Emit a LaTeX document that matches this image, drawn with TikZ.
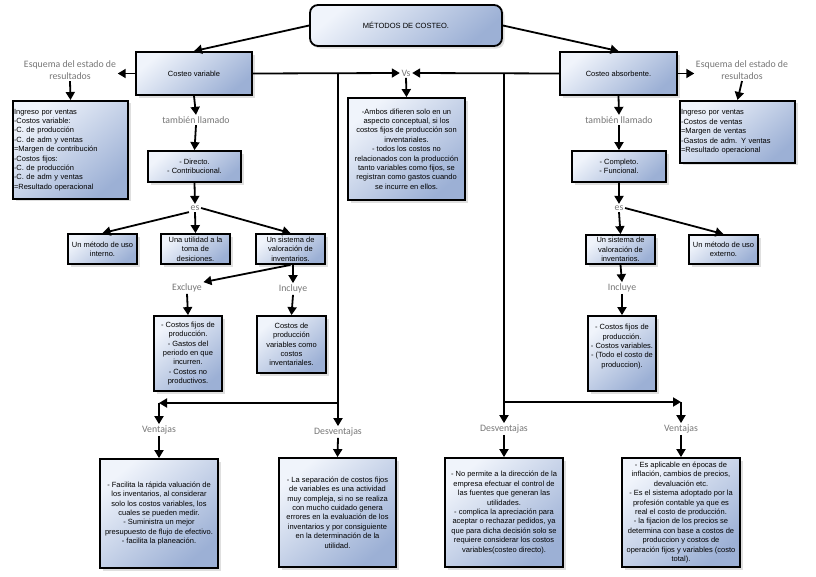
\documentclass[tikz,border=0pt]{standalone}
\usepackage{fontspec}
\setmainfont{Liberation Sans}
\newfontfamily\lblfont{Carlito}
\usetikzlibrary{arrows.meta, shadows}
\definecolor{boxlight}{RGB}{240,244,251}
\definecolor{boxdark}{RGB}{156,176,213}
\definecolor{lblgray}{RGB}{118,118,118}
\tikzstyle{box} = [rectangle, draw=black, line width=1.8pt, top color=boxlight, bottom color=boxdark, shading angle=40, drop shadow={shadow xshift=2.5pt, shadow yshift=-2.5pt, fill=black!25, opacity=0.5}, align=center, inner sep=1pt, font=\fontsize{7.5}{9.4}\selectfont]
\tikzstyle{listbox} = [box, align=left, text width=113pt, anchor=north]
\tikzstyle{titlebox} = [box, rounded corners=8pt]
\tikzstyle{lbl} = [text=lblgray, font=\lblfont\fontsize{9.8}{11.8}\selectfont, align=center, inner sep=1.5pt]
\tikzstyle{arrow} = [line width=1.8pt, -{Triangle[length=8pt, width=9pt]}]

\begin{document}
\begin{tikzpicture}[x=1pt, y=-1pt]
\useasboundingbox (0,0) rectangle (816,576);

\node (title) [titlebox, minimum width=192pt, minimum height=41pt] at (406,25.5) {MÉTODOS DE COSTEO.};

\node (cv) [box, minimum width=116pt, minimum height=43pt] at (194,73.5) {Costeo variable};
\node (ca) [box, minimum width=117pt, minimum height=43pt] at (618.5,73.5) {Costeo absorbente.};
\node (vs) [lbl] at (406,73) {Vs};

\node (esqL) [lbl] at (70,70) {Esquema del estado de\\resultados};
\node (infoL) [listbox, minimum height=98pt] at (70.5,100) {Ingreso por ventas\\-Costos variable:\\-C. de producción\\-C. de adm y ventas\\=Margen de contribución\\-Costos fijos:\\-C. de producción\\-C. de adm y ventas\\=Resultado operacional};

\node (esqR) [lbl] at (742,70) {Esquema del estado de\\resultados};
\node (infoR) [listbox, minimum height=62pt] at (737.5,100) {Ingreso por ventas\\-Costos de ventas\\=Margen de ventas\\-Gastos de adm. Y ventas\\=Resultado operacional};

\node (vsbox) [box, minimum width=117pt, minimum height=102pt] at (406.5,149) {-Ambos difieren solo en un\\aspecto conceptual, si los\\costos fijos de producción son\\inventariales.\\- todos los costos no\\relacionados con la producción\\tanto variables como fijos, se\\registran como gastos cuando\\se incurre en ellos.};

% costeo variable
\node (tlL) [lbl] at (196,120) {también llamado};
\node (dirL) [box, minimum width=93pt, minimum height=31pt] at (194.5,166.5) {- Directo.\\- Contribucional.};
\node (esL) [lbl] at (195,208) {es};
\node (intL) [box, minimum width=69pt, minimum height=30pt] at (102.5,249) {Un método de uso\\interno.};
\node (utL) [box, minimum width=69pt, minimum height=30pt] at (195.5,249) {Una utilidad a la\\toma de\\desiciones.};
\node (sisL) [box, minimum width=69pt, minimum height=30pt] at (290.5,249) {Un sistema de\\valoración de\\inventarios.};
\node (excL) [lbl] at (187,288) {Excluye};
\node (incL) [lbl] at (293,289) {Incluye};
\node (excB) [box, minimum width=68pt, minimum height=75pt] at (188,353.5) {- Costos fijos de\\producción.\\- Gastos del\\periodo en que\\incurren.\\- Costos no\\productivos.};
\node (incB) [box, minimum width=69pt, minimum height=57pt] at (291.5,344.5) {Costos de\\producción\\variables como\\costos\\inventariales.};

% costeo absorbente
\node (tlR) [lbl] at (619,120) {también llamado};
\node (comR) [box, minimum width=94pt, minimum height=31pt] at (619,166.5) {- Completo.\\- Funcional.};
\node (esR) [lbl] at (619,208) {es};
\node (sisR) [box, minimum width=69pt, minimum height=29pt] at (620.5,249.5) {Un sistema de\\valoración de\\inventarios.};
\node (extR) [box, minimum width=69pt, minimum height=29pt] at (723.5,249.5) {Un método de uso\\externo.};
\node (incR) [lbl] at (622,288) {Incluye};
\node (incRB) [box, minimum width=68pt, minimum height=75pt] at (622,353.5) {- Costos fijos de\\producción.\\- Costos variables.\\- (Todo el costo de\\produccion).\\[6pt]};

% ventajas y desventajas
\node (venL) [lbl] at (159,430) {Ventajas};
\node (desL) [lbl] at (338,432) {Desventajas};
\node (desR) [lbl] at (504,429) {Desventajas};
\node (venR) [lbl] at (681,429) {Ventajas};
\node (venLB) [box, minimum width=118pt, minimum height=109pt] at (159,513.5) {- Facilita la rápida valuación de\\los inventarios, al considerar\\solo los costos variables, los\\cuales se pueden medir.\\- Suministra un mejor\\presupuesto de flujo de efectivo.\\- facilita la planeación.};
\node (desLB) [box, minimum width=117pt, minimum height=109pt] at (337.5,512.5) {- La separación de costos fijos\\de variables es una actividad\\muy compleja, si no se realiza\\con mucho cuidado genera\\errores en la evaluación de los\\inventarios y por consiguiente\\en la determinación de la\\utilidad.};
\node (desRB) [box, minimum width=118pt, minimum height=109pt] at (504,512.5) {- No permite a la dirección de la\\empresa efectuar el control de\\las fuentes que generan las\\utilidades.\\- complica la apreciación para\\aceptar o rechazar pedidos, ya\\que para dicha decisión solo se\\requiere considerar los costos\\variables(costeo directo).};
\node (venRB) [box, minimum width=118pt, minimum height=109pt] at (681,512.5) {- Es aplicable en épocas de\\inflación, cambios de precios,\\devaluación etc.\\- Es el sistema adoptado por la\\profesión contable ya que es\\real el costo de producción.\\- la fijacion de los precios se\\determina con base a costos de\\produccion y costos de\\operación fijos y variables (costo\\total).};

\coordinate (jL) at (338,73.5);
\coordinate (kL) at (338,403);
\coordinate (cL) at (159,403);
\coordinate (jR) at (504,73.5);
\coordinate (kR) at (504,402);
\coordinate (cR) at (681,402);

\draw [arrow] (title.west) -- (cv.north);
\draw [arrow] (title.east) -- (ca.north);
\draw [arrow] (cv.west) -- (cv.west -| esqL.east);
\draw [arrow] (ca.east) -- (ca.east -| esqR.west);
\draw [arrow] (esqL.south) -- (infoL.north);
\draw [arrow] (esqR.south) -- (infoR.north);
\draw [arrow] (cv.east) -- (vs.west);
\draw [arrow] (ca.west) -- (vs.east);
\draw [arrow] (vs.south) -- (vsbox.north);

\draw [arrow] (cv.south) -- (tlL.north);
\draw [arrow] (tlL.south) -- (dirL.north);
\draw [arrow] (dirL.south) -- (esL.north);
\draw [arrow] (esL.south west) -- (intL.north);
\draw [arrow] (esL.south) -- (utL.north);
\draw [arrow] (esL.east) -- (sisL.north);
\draw [arrow] (sisL.south) -- (excL.north east);
\draw [arrow] (sisL.south -| incL.north) -- (incL.north);
\draw [arrow] (excL.south) -- (excB.north);
\draw [arrow] (incL.south) -- (incB.north);

\draw [arrow] (ca.south) -- (tlR.north);
\draw [arrow] (tlR.south) -- (comR.north);
\draw [arrow] (comR.south) -- (esR.north);
\draw [arrow] (esR.south) -- (sisR.north);
\draw [arrow] (esR.east) -- (extR.north);
\draw [arrow] (sisR.south) -- (incR.north);
\draw [arrow] (incR.south) -- (incRB.north);

\draw [arrow] (jL) -- (desL.north);
\draw [arrow] (kL) -- (cL);
\draw [arrow] (cL) -- (venL.north);
\draw [arrow] (jR) -- (desR.north);
\draw [arrow] (kR) -- (cR);
\draw [arrow] (cR) -- (venR.north);
\draw [arrow] (venL.south) -- (venLB.north);
\draw [arrow] (desL.south) -- (desLB.north);
\draw [arrow] (desR.south) -- (desRB.north);
\draw [arrow] (venR.south) -- (venRB.north);
\end{tikzpicture}
\end{document}
